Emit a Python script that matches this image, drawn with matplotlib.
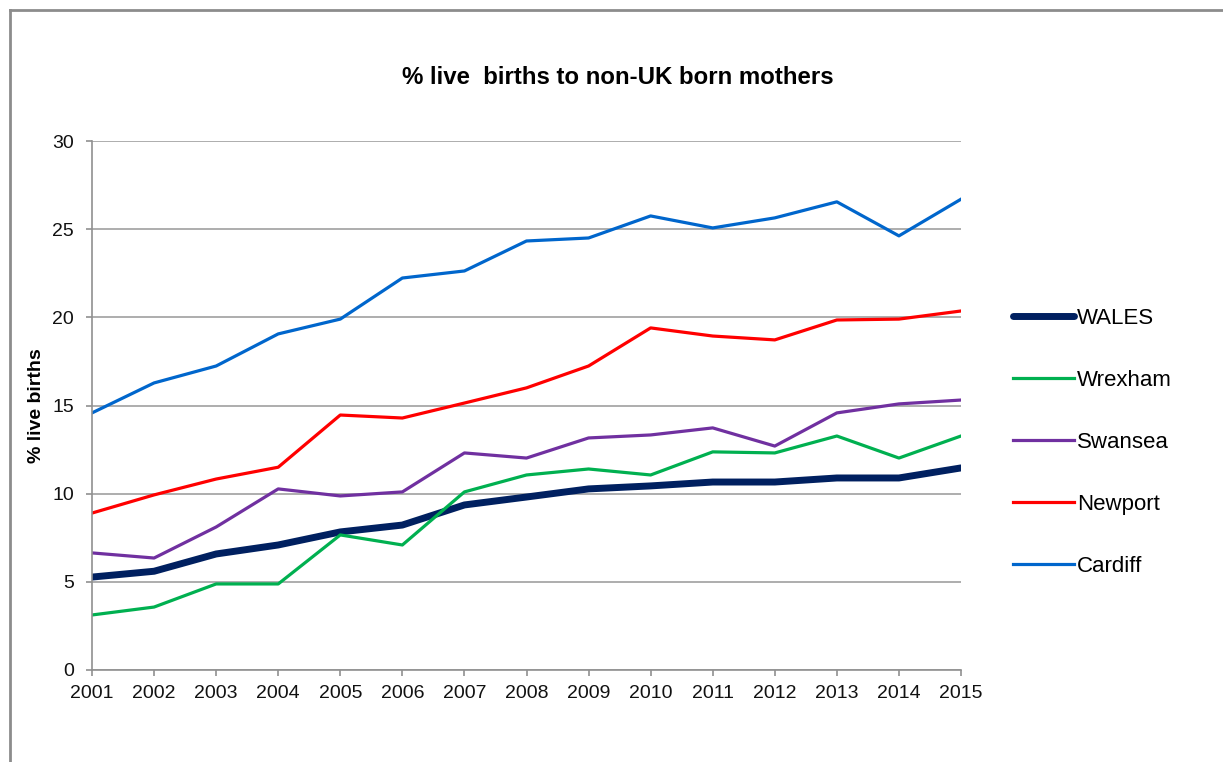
import matplotlib.pyplot as plt
from matplotlib.lines import Line2D

plt.rcParams['font.family'] = ['Liberation Sans', 'DejaVu Sans']

years = list(range(2001, 2016))
wales = [5.27, 5.6, 6.58, 7.09, 7.83, 8.22, 9.36, 9.81, 10.27, 10.44, 10.66, 10.66, 10.89, 10.89, 11.46]
wrexham = [3.12, 3.57, 4.88, 4.88, 7.66, 7.09, 10.1, 11.06, 11.4, 11.06, 12.37, 12.31, 13.27, 12.02, 13.27]
swansea = [6.64, 6.35, 8.11, 10.27, 9.87, 10.1, 12.31, 12.02, 13.16, 13.33, 13.73, 12.7, 14.58, 15.09, 15.31]
newport = [8.9, 9.93, 10.83, 11.5, 14.46, 14.29, 15.14, 16.0, 17.24, 19.4, 18.94, 18.72, 19.85, 19.9, 20.36]
cardiff = [14.58, 16.28, 17.24, 19.06, 19.9, 22.23, 22.63, 24.33, 24.5, 25.75, 25.07, 25.64, 26.55, 24.62, 26.7]

fig = plt.figure(figsize=(12.23, 7.62), dpi=100)
ax = fig.add_axes([92 / 1223, 1 - 670 / 762, (961 - 92) / 1223, (670 - 141) / 762])

# outer chart frame (screenshot crop: only left and top edges visible)
fig.add_artist(Line2D([10 / 1223, 10 / 1223], [0, 1 - 10 / 762], color='#8c8c8c', lw=2))
fig.add_artist(Line2D([10 / 1223, 1], [1 - 10 / 762, 1 - 10 / 762], color='#8c8c8c', lw=2))

ax.plot(years, wales, color='#002060', lw=5, label='WALES', solid_capstyle='round')
ax.plot(years, wrexham, color='#00b050', lw=2.3, label='Wrexham')
ax.plot(years, swansea, color='#7030a0', lw=2.3, label='Swansea')
ax.plot(years, newport, color='#ff0000', lw=2.3, label='Newport')
ax.plot(years, cardiff, color='#0066cc', lw=2.3, label='Cardiff')

ax.set_xlim(2001, 2015)
ax.set_ylim(0, 30)
ax.set_xticks(years)
ax.set_yticks(range(0, 31, 5))
ax.grid(axis='y', color='#a0a0a0', lw=1.2)
ax.set_axisbelow(True)
for s in ['top', 'right']:
    ax.spines[s].set_visible(False)
for s in ['left', 'bottom']:
    ax.spines[s].set_color('#909090')
    ax.spines[s].set_linewidth(1.2)
ax.tick_params(colors='#909090', labelcolor='#111111', labelsize=14, length=4, width=1.2)
ax.tick_params(axis='x', pad=7)
ax.tick_params(axis='y', pad=9)

ax.set_ylabel('% live births', fontsize=14, fontweight='bold', labelpad=5)
fig.text(618 / 1223, 1 - 78 / 762, '% live  births to non-UK born mothers', ha='center', va='center',
         fontsize=17.3, fontweight='bold')

fig.legend(loc='upper left', bbox_to_anchor=(993 / 1223, 1 - 288 / 762), frameon=False,
           fontsize=16, handlelength=2.75, handletextpad=0.14, labelspacing=1.84)

fig.savefig('out.png', dpi=100)
